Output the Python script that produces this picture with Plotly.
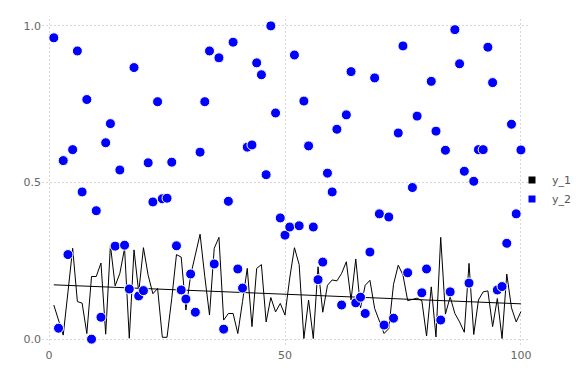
import numpy as np
import plotly.graph_objects as go

x_vals = list(range(1, 101))

y_1 = [0.109, 0.061, 0.013, 0.15, 0.29, 0.12, 0.115, 0.018, 0.2, 0.2,
       0.243, 0.016, 0.3, 0.17, 0.21, 0.29, 0.003, 0.285, 0.15, 0.292,
       0.204, 0.145, 0.162, 0.006, 0.006, 0.13, 0.27, 0.262, 0.093, 0.204,
       0.27, 0.335, 0.2, 0.077, 0.29, 0.325, 0.061, 0.082, 0.082, 0.018,
       0.12, 0.226, 0.04, 0.226, 0.238, 0.055, 0.133, 0.087, 0.114, 0.077,
       0.195, 0.292, 0.238, 0.002, 0.125, 0.002, 0.231, 0.086, 0.172, 0.189,
       0.186, 0.21, 0.247, 0.125, 0.256, 0.1, 0.172, 0.188, 0.098, 0.058,
       0.018, 0.034, 0.175, 0.236, 0.205, 0.123, 0.128, 0.131, 0.123, 0.01,
       0.167, 0.007, 0.325, 0.08, 0.135, 0.082, 0.055, 0.022, 0.242, 0.015,
       0.125, 0.151, 0.154, 0.04, 0.13, 0.002, 0.208, 0.1, 0.055, 0.088]

y_2 = [0.962, 0.035, 0.57, 0.27, 0.605, 0.92, 0.47, 0.765, 0.0, 0.41,
       0.07, 0.627, 0.688, 0.297, 0.54, 0.30, 0.16, 0.867, 0.138, 0.155,
       0.563, 0.438, 0.758, 0.448, 0.45, 0.565, 0.298, 0.157, 0.128, 0.208,
       0.086, 0.597, 0.758, 0.92, 0.24, 0.898, 0.032, 0.44, 0.948, 0.224,
       0.163, 0.613, 0.62, 0.882, 0.844, 0.525, 1.0, 0.722, 0.387, 0.332,
       0.358, 0.907, 0.362, 0.76, 0.617, 0.358, 0.19, 0.246, 0.53, 0.47,
       0.67, 0.109, 0.716, 0.854, 0.116, 0.134, 0.082, 0.278, 0.834, 0.4,
       0.045, 0.39, 0.067, 0.658, 0.936, 0.212, 0.484, 0.712, 0.148, 0.224,
       0.823, 0.664, 0.061, 0.603, 0.151, 0.988, 0.879, 0.536, 0.179, 0.504,
       0.605, 0.605, 0.932, 0.819, 0.157, 0.168, 0.306, 0.686, 0.4, 0.604]

x_ticks = [0, 50, 100]
x_tick_labels = ["0", "50", "100"]
y_ticks = [0.0, 0.5, 1.0]
y_tick_labels = ["0.0", "0.5", "1.0"]
series_names = ["y_1", "y_2"]

# linear trend of y_1
xa = np.array(x_vals, dtype=float)
slope, intercept = np.polyfit(xa, np.array(y_1), 1)
trend = (slope * xa + intercept).tolist()

FONT = "DejaVu Sans"
GRID = "#d6d6e2"

fig = go.Figure()
fig.add_trace(go.Scatter(x=x_vals, y=y_1, mode="lines",
                         line=dict(color="black", width=1), showlegend=False))
fig.add_trace(go.Scatter(x=x_vals, y=trend, mode="lines",
                         line=dict(color="black", width=1), showlegend=False))
fig.add_trace(go.Scatter(x=x_vals, y=y_2, mode="markers",
                         marker=dict(color="#0000ff", size=10,
                                     line=dict(color="white", width=1)),
                         showlegend=False))
# legend entries
fig.add_trace(go.Scatter(x=[None], y=[None], mode="markers", name=series_names[0],
                         marker=dict(symbol="square", color="black", size=7)))
fig.add_trace(go.Scatter(x=[None], y=[None], mode="markers", name=series_names[1],
                         marker=dict(symbol="square", color="#0000ff", size=7)))

axis_common = dict(showgrid=True, gridcolor=GRID, griddash="2px,2px", gridwidth=1,
                   zeroline=False, showline=False, ticks="", automargin=False,
                   tickfont=dict(family=FONT, size=11, color="#666666"))

fig.update_layout(
    width=576, height=384,
    margin=dict(l=42, r=48, t=19, b=37, autoexpand=False),
    paper_bgcolor="white", plot_bgcolor="white",
    font=dict(family=FONT, size=11, color="#555555"),
    xaxis=dict(range=[-1.5, 101.5], tickvals=x_ticks, ticktext=x_tick_labels,
               **axis_common),
    yaxis=dict(range=[-0.025, 1.022], tickvals=y_ticks, ticktext=y_tick_labels,
               **axis_common),
    legend=dict(xref="container", yref="container",
                x=512 / 576, y=1 - 189.5 / 384, xanchor="left", yanchor="middle",
                bgcolor="rgba(0,0,0,0)", borderwidth=0,
                font=dict(family=FONT, size=11, color="#555555"),
                tracegroupgap=0, itemwidth=30),
    showlegend=True,
)

fig.write_html("out.html",
               config={"displayModeBar": False},
               post_script="document.body.style.margin='0';document.body.style.overflow='hidden';")
